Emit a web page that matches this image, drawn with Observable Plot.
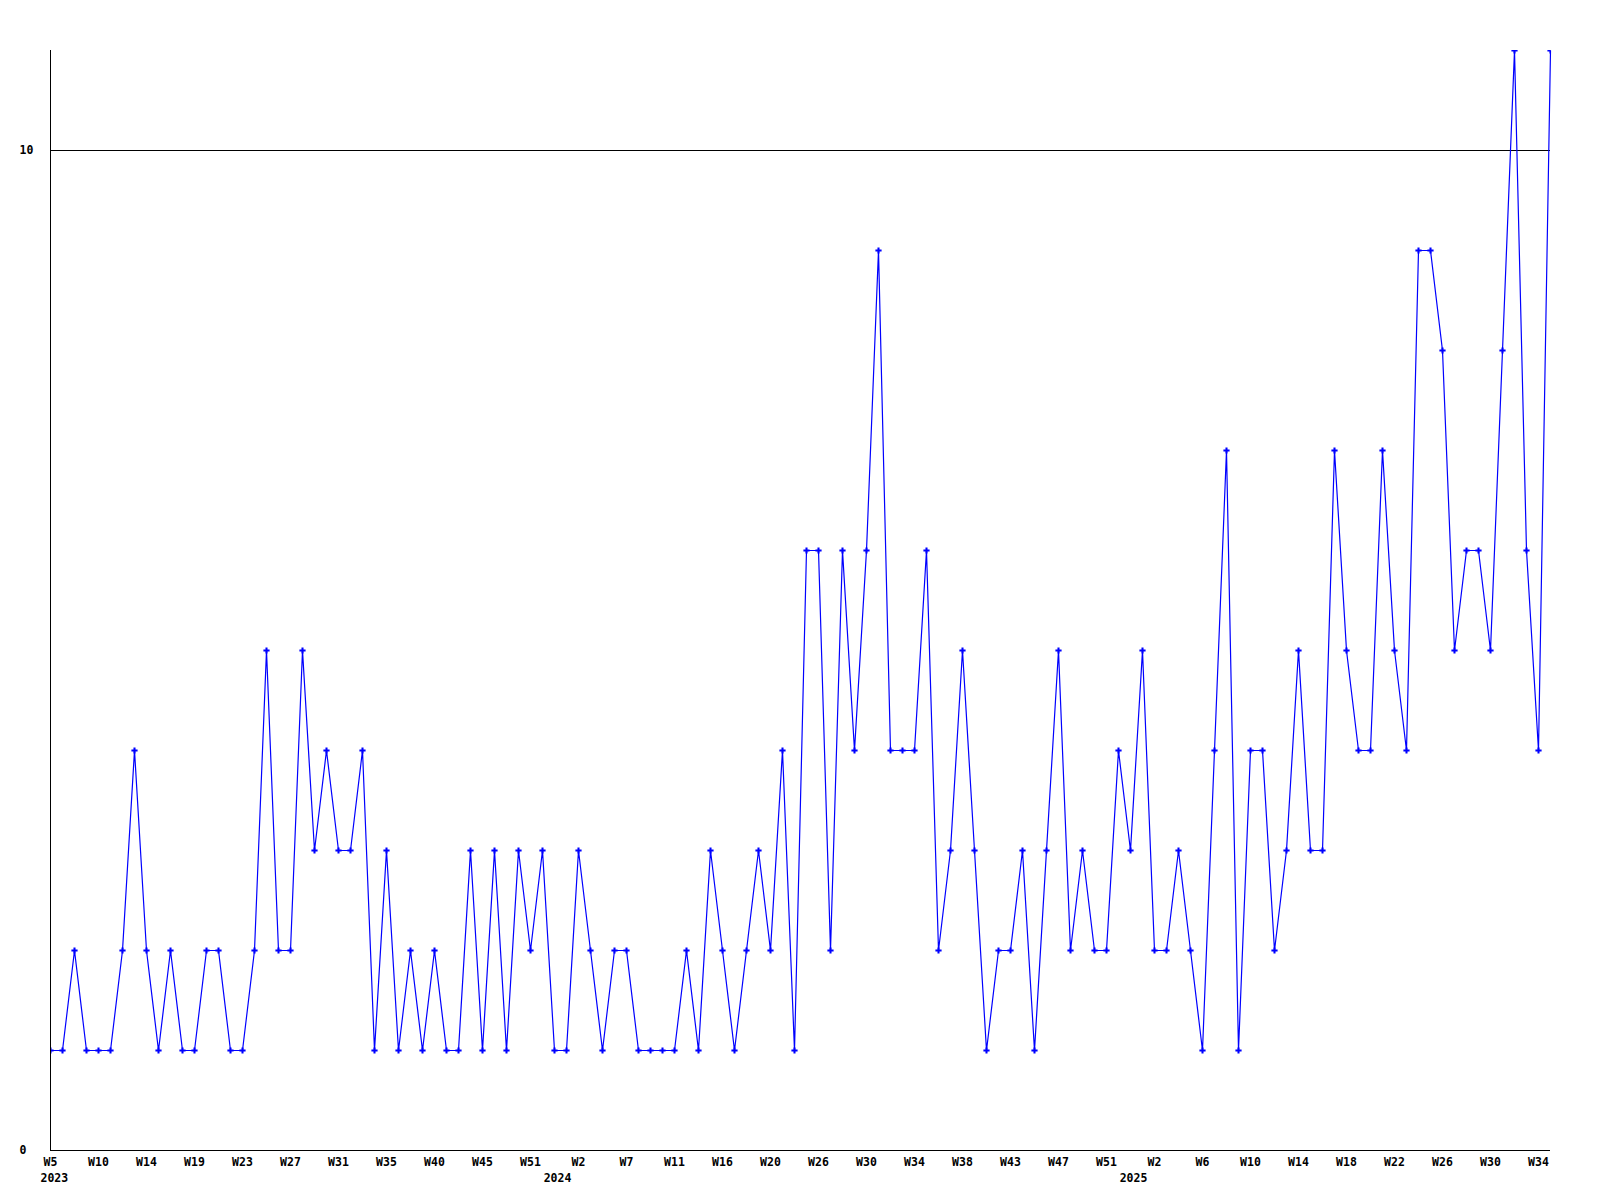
<!DOCTYPE html>
<html>
<head>
<meta charset="utf-8">
<script src="https://cdn.jsdelivr.net/npm/d3@7"></script>
<script src="https://cdn.jsdelivr.net/npm/@observablehq/plot@0.6"></script>
<style>
  html, body { margin: 0; padding: 0; background: #ffffff; }
  #chart svg { display: block; }
</style>
</head>
<body>
<div id="chart"></div>
<script>
// Weekly values, 2023 W5 onward (one point per period)
const values = [
  1,1,2,1,1,1,2,4,2,1,
  2,1,1,2,2,1,1,2,5,2,
  2,5,3,4,3,3,4,1,3,1,
  2,1,2,1,1,3,1,3,1,3,
  2,3,1,1,3,2,1,2,2,1,
  1,1,1,2,1,3,2,1,2,3,
  2,4,1,6,6,2,6,4,6,9,
  4,4,4,6,2,3,5,3,1,2,
  2,3,1,3,5,2,3,2,2,4,
  3,5,2,2,3,2,1,4,7,1,
  4,4,2,3,5,3,3,7,5,4,
  4,7,5,4,9,9,8,5,6,6,
  5,8,11,6,4,11
];

// X tick labels, one every 4 points
const weekLabels = [
  "W5","W10","W14","W19","W23","W27","W31","W35","W40","W45","W51",
  "W2","W7","W11","W16","W20","W26","W30","W34","W38","W43","W47","W51",
  "W2","W6","W10","W14","W18","W22","W26","W30","W34"
];
const tickEvery = 4;

// Year labels
const years = ["2023", "2024", "2025"];

// Y tick labels
const yTicks = [0, 10];

// --- derived tables ---
const series = values.map((v, i) => ({i, v}));
const xTicks = weekLabels.map((label, k) => ({i: k * tickEvery, label}));
// first tick of each year: where the week number resets
const yearStarts = [0];
for (let k = 1; k < weekLabels.length; k++) {
  if (+weekLabels[k].slice(1) < +weekLabels[k - 1].slice(1)) yearStarts.push(k);
}
const yearTable = years.map((y, n) => ({i: yearStarts[n] * tickEvery, label: y}));

const font = "DejaVu Sans Mono, Liberation Mono, monospace";
const blue = "#0000ff";

const chart = Plot.plot({
  width: 1600,
  height: 1200,
  marginLeft: 50,
  marginRight: 50,
  marginTop: 50,
  marginBottom: 50,
  style: {fontFamily: font, background: "#ffffff"},
  x: {domain: [0, values.length - 1], axis: null},
  y: {domain: [0, d3.max(values)], axis: null},
  marks: [
    Plot.ruleY([10], {stroke: "#000", strokeWidth: 1, shapeRendering: "crispEdges"}),
    Plot.lineY(series, {x: "i", y: "v", stroke: blue, strokeWidth: 1.2}),
    Plot.dot(series, {x: "i", y: "v", symbol: "cross", r: 2.6, fill: blue, stroke: "none", clip: true}),
    Plot.ruleX([0], {stroke: "#000", strokeWidth: 1.5, shapeRendering: "crispEdges"}),
    Plot.ruleY([0], {stroke: "#000", strokeWidth: 1.5, shapeRendering: "crispEdges"}),
    // x tick labels
    Plot.text(xTicks, {x: "i", y: () => 0, text: "label", dy: 12, lineAnchor: "middle",
      fontSize: 11.5, fontWeight: "bold", fill: "#000", fontFamily: font}),
    // year labels
    Plot.text(yearTable.slice(0, 1), {x: "i", y: () => 0, text: "label", dy: 28, dx: -10,
      textAnchor: "start", lineAnchor: "middle", fontSize: 11.5, fontWeight: "bold", fill: "#000", fontFamily: font}),
    Plot.text(yearTable.slice(1), {x: "i", y: () => 0, text: "label", dy: 28, dx: -21,
      lineAnchor: "middle", fontSize: 11.5, fontWeight: "bold", fill: "#000", fontFamily: font}),
    // y tick labels
    Plot.text(yTicks, {y: d => d, frameAnchor: "left", dx: -31, textAnchor: "start",
      lineAnchor: "middle", text: d => String(d), fontSize: 11.5, fontWeight: "bold", fill: "#000", fontFamily: font})
  ]
});
document.getElementById("chart").appendChild(chart);
</script>
</body>
</html>
